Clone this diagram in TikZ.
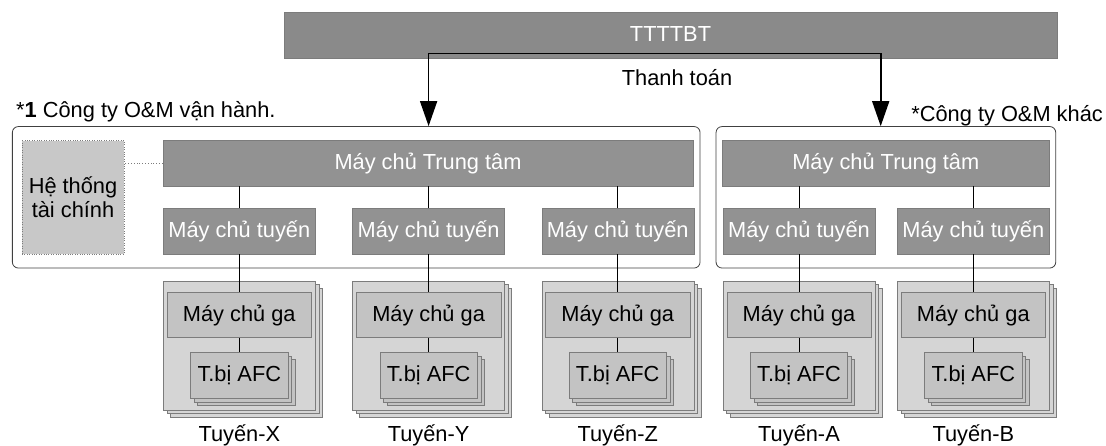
\documentclass[tikz,border=0pt]{standalone}
\usepackage{fontspec}
\setmainfont{Liberation Sans}
\usetikzlibrary{arrows.meta,shadows}
\definecolor{bardark}{HTML}{8A8A8A}
\definecolor{boxdark}{HTML}{929292}
\definecolor{edgegray}{HTML}{7C7C7C}
\definecolor{sheetgray}{HTML}{D5D5D5}
\definecolor{gagray}{HTML}{C3C3C3}
\definecolor{fingray}{HTML}{C8C8C8}

\begin{document}
\begin{tikzpicture}[x=1pt,y=-1pt,
	every node/.style={font=\fontsize{21.8}{24}\selectfont,inner sep=0pt},
	srvdark/.style={draw=edgegray,fill=boxdark,text=white,minimum height=45.3pt},
	srvline/.style={srvdark,minimum width=152pt},
	cmpbox/.style={draw=black!75,rounded corners=6pt,line width=0.8pt},
	grpbox/.style={draw=edgegray,fill=sheetgray,minimum width=152pt,minimum height=129pt,
		copy shadow={shadow xshift=7pt,shadow yshift=-7pt,fill=sheetgray,draw=edgegray},
		copy shadow={shadow xshift=3.5pt,shadow yshift=-3.5pt,fill=sheetgray,draw=edgegray}},
	gabox/.style={draw=edgegray,fill=gagray,minimum width=144.5pt,minimum height=45pt},
	afcbox/.style={draw=edgegray,fill=gagray,minimum width=97.3pt,minimum height=46pt,
		copy shadow={shadow xshift=7pt,shadow yshift=-7pt,fill=gagray,draw=edgegray},
		copy shadow={shadow xshift=3.5pt,shadow yshift=-3.5pt,fill=gagray,draw=edgegray}},
	link/.style={line width=0.8pt},
	payarrow/.style={line width=1.6pt,{Triangle[width=17pt,length=25pt]}-{Triangle[width=17pt,length=25pt]}}]
	\useasboundingbox (0,0) rectangle (1106,446);
	% companies
	\node[cmpbox,minimum width=687.7pt,minimum height=141.5pt] (cmpL) at (356.2,197.3) {};
	\node[cmpbox,minimum width=339.7pt,minimum height=141.5pt] (cmpR) at (885.9,197.3) {};
	\node[anchor=base west] (lblL) at (16,118) {*\textbf{1} Công ty O\&M vận hành.};
	\node[anchor=base east] (lblR) at (1103,121.5) {*Công ty O\&M khác};
	% clearing house and payment
	\node[draw=edgegray,fill=bardark,text=white,minimum width=772.7pt,minimum height=46pt] (ttbt) at (670.5,35.3) {\raisebox{3pt}{TTTTBT}};
	\coordinate (payL) at (428.6,53.6);
	\coordinate (payR) at (880.7,53.6);
	\draw[payarrow] (payL |- cmpL.north) |- (payR) -- (payR |- cmpR.north);
	\node (pay) at (677,77.6) {Thanh toán};
	% central servers
	\node[srvdark,minimum width=530.6pt] (ttL) at (428,163.3) {Máy chủ Trung tâm};
	\node[srvdark,minimum width=327pt] (ttR) at (885.8,163.3) {Máy chủ Trung tâm};
	\node[draw=edgegray,dotted,fill=fingray,minimum width=102pt,minimum height=113.3pt,align=center] (fin) at (73,197.3) {Hệ thống\\tài chính};
	\draw[link,dotted,edgegray] (ttL.west) -- (ttL.west -| fin.east);
	% lines
	\foreach \c/\x/\p in {X/239.3/ttL,Y/428.6/ttL,Z/617.7/ttL,A/799/ttR,B/973.3/ttR} {
		\node[srvline] (ls\c) at (\x,231.3) {Máy chủ tuyến};
		\node[grpbox] (grp\c) at (\x,345.5) {};
		\node[gabox] (ga\c) at (\x,315.2) {Máy chủ ga};
		\node[afcbox] (afc\c) at (\x,375.4) {T.bị AFC};
		\node (name\c) at (\x,435) {Tuyến-\c};
		\draw[link] (ls\c.north) -- (ls\c.north |- \p.south);
		\draw[link] (ls\c.south) -- (ga\c.north);
		\draw[link] (ga\c.south) -- (afc\c.north);
	}
\end{tikzpicture}
\end{document}
